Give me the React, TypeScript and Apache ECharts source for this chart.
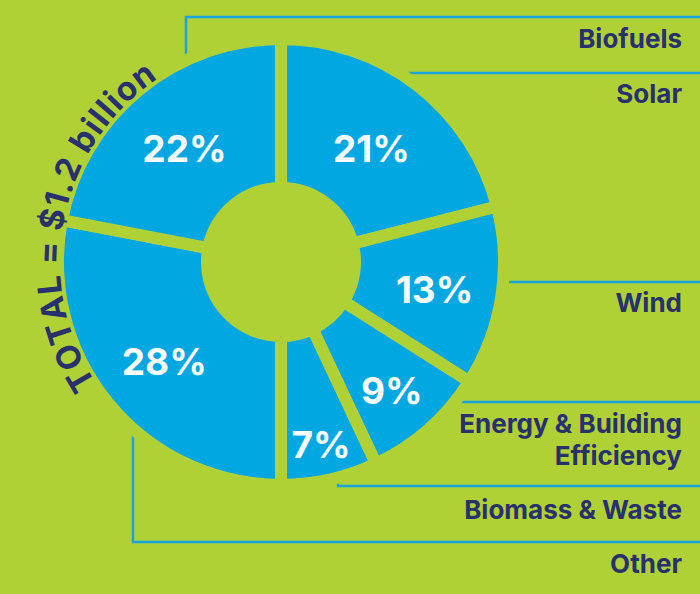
import React, { useEffect, useRef } from "react";
import * as echarts from "echarts";

// Data (clockwise from 12 o'clock)
const categories = ["Solar", "Wind", "Energy & Building Efficiency", "Biomass & Waste", "Other", "Biofuels"];
const shares = [21, 13, 9, 7, 28, 22];
const totalText = "TOTAL = $1.2 billion";

// Right-hand label lines (text lines per category)
const labelLines: Record<string, string[]> = {
  Biofuels: ["Biofuels"],
  Solar: ["Solar"],
  Wind: ["Wind"],
  "Energy & Building Efficiency": ["Energy & Building", "Efficiency"],
  "Biomass & Waste": ["Biomass & Waste"],
  Other: ["Other"],
};

const BG = "#b0d136";
const BLUE = "#00a7e1";
const NAVY = "#28306e";
const LINE = "#19a4de";
const FONT = "Inter";

const CX = 281;
const CY = 262;

export default function App() {
  const ref = useRef<HTMLDivElement>(null);

  useEffect(() => {
    if (!ref.current) return;
    const chart = echarts.init(ref.current, undefined, { renderer: "svg" });

    // label pushes outward (px) for small slices
    const push: Record<string, number> = {
      Solar: -4,
      Wind: 4,
      "Energy & Building Efficiency": 16,
      "Biomass & Waste": 32,
    };
    const sum = shares.reduce((a, b) => a + b, 0);
    const midAngles: number[] = [];
    let acc = 0;
    shares.forEach((v) => {
      const mid = 90 - ((acc + v / 2) / sum) * 360;
      midAngles.push(mid);
      acc += v;
    });

    // curved TOTAL text
    const fontSizeT = 33;
    const fontT = `bold ${fontSizeT}px ${FONT}`;
    const canvas = document.createElement("canvas");
    const ctx = canvas.getContext("2d")!;
    ctx.font = fontT;
    const chars = totalText.split("");
    const widths = chars.map((c) => ctx.measureText(c).width);
    const rText = 233;
    const startA = 210.5;
    const endA = 126.5;
    const arcLen = (rText * (startA - endA) * Math.PI) / 180;
    const sumW = widths.reduce((a, b) => a + b, 0);
    const ls = (arcLen - (sumW - widths[0] / 2 - widths[widths.length - 1] / 2)) / (chars.length - 1);
    const curved: any[] = [];
    let s = 0;
    chars.forEach((c, i) => {
      const center = i === 0 ? 0 : s + widths[i] / 2;
      if (i === 0) s = widths[0] / 2 + ls;
      else s += widths[i] + ls;
      const theta = startA - (center / rText) * (180 / Math.PI);
      const t = (theta * Math.PI) / 180;
      curved.push({
        type: "text",
        x: CX + rText * Math.cos(t),
        y: CY - rText * Math.sin(t),
        rotation: ((theta - 90) * Math.PI) / 180,
        z: 10,
        style: {
          text: c,
          font: fontT,
          fill: NAVY,
          align: "center",
          verticalAlign: "middle",
        },
      });
    });

    const lineStyle = { stroke: LINE, lineWidth: 2.5, fill: "none" };
    const leaders: any[] = [
      { type: "polyline", shape: { points: [[186, 100], [186, 17], [700, 17]] }, style: lineStyle },
      { type: "polyline", shape: { points: [[407, 120], [407, 73], [700, 73]] }, style: lineStyle },
      { type: "polyline", shape: { points: [[470, 282], [700, 282]] }, style: lineStyle },
      { type: "polyline", shape: { points: [[420, 402], [700, 402]] }, style: lineStyle },
      { type: "polyline", shape: { points: [[338, 440], [338, 486], [700, 486]] }, style: lineStyle },
      { type: "polyline", shape: { points: [[133, 400], [133, 542], [700, 542]] }, style: lineStyle },
    ];

    const labelY: Record<string, number> = {
      Biofuels: 38,
      Solar: 93,
      Wind: 302,
      "Energy & Building Efficiency": 423,
      "Biomass & Waste": 509,
      Other: 563,
    };
    const texts: any[] = [];
    categories.forEach((name) => {
      labelLines[name].forEach((ln, k) => {
        texts.push({
          type: "text",
          x: 682,
          y: labelY[name] + k * 32,
          z: 10,
          style: {
            text: ln,
            font: `bold 26px ${FONT}`,
            fill: NAVY,
            align: "right",
            verticalAlign: "middle",
          },
        });
      });
    });

    chart.setOption({
      animation: false,
      backgroundColor: BG,
      graphic: [...leaders, ...texts, ...curved],
      series: [
        {
          type: "pie",
          center: [CX, CY],
          radius: [74, 223],
          startAngle: 90,
          clockwise: true,
          silent: true,
          itemStyle: { color: BLUE, borderColor: BG, borderWidth: 12 },
          label: {
            show: true,
            position: "inside",
            color: "#ffffff",
            fontFamily: FONT,
            fontWeight: "bold",
            fontSize: 37,
            formatter: (p: any) => `${p.value}%`,
          },
          labelLine: { show: false },
          labelLayout: (p: any) => {
            const name = categories[p.dataIndex];
            const d = push[name] || 0;
            const a = (midAngles[p.dataIndex] * Math.PI) / 180;
            return { dx: d * Math.cos(a), dy: -d * Math.sin(a) + 3 };
          },
          emphasis: { disabled: true },
          data: categories.map((name, i) => ({ name, value: shares[i] })),
        },
      ],
    });

    return () => chart.dispose();
  }, []);

  return (
    <div
      ref={ref}
      style={{ position: "fixed", left: 0, top: 0, width: 700, height: 594 }}
    />
  );
}
